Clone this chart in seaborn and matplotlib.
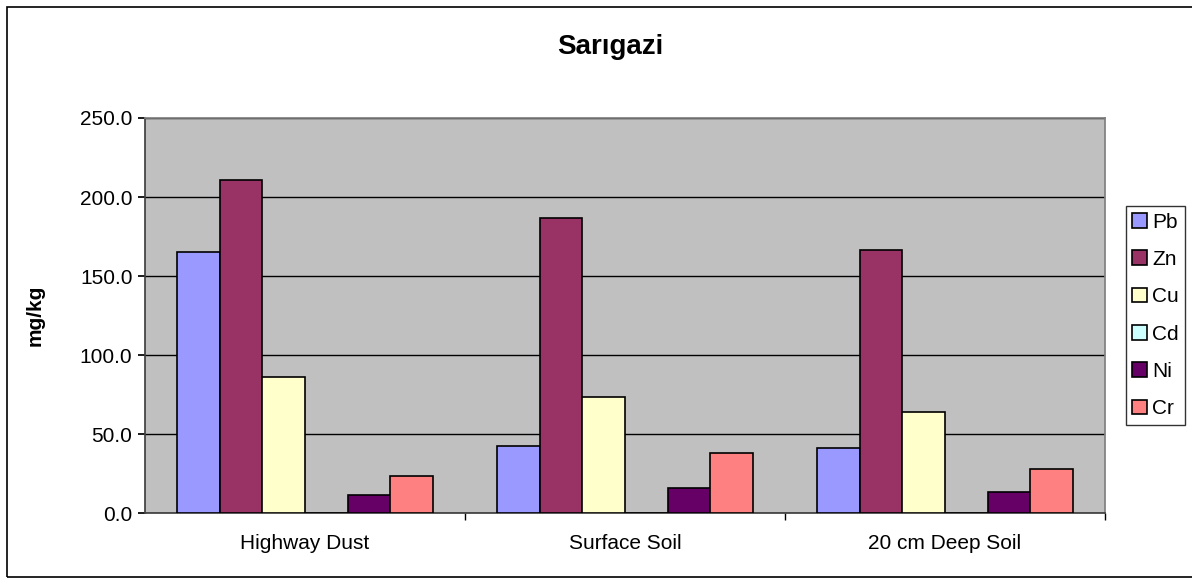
import pandas as pd
import matplotlib.pyplot as plt
import seaborn as sns
from matplotlib.patches import Rectangle

# Values (mg/kg)
sites = ['Highway Dust', 'Surface Soil', '20 cm Deep Soil']
metals = ['Pb', 'Zn', 'Cu', 'Cd', 'Ni', 'Cr']
pb = [165.2, 42.4, 41.3]
zn = [210.8, 186.5, 166.5]
cu = [86.0, 73.6, 63.7]
cd = [0.3, 0.3, 0.3]
ni = [11.4, 15.8, 13.5]
cr = [23.6, 37.8, 28.0]
colors = ['#9999FF', '#993366', '#FFFFCC', '#CCFFFF', '#660066', '#FF8080']

series = {'Pb': pb, 'Zn': zn, 'Cu': cu, 'Cd': cd, 'Ni': ni, 'Cr': cr}
rows = []
for metal in metals:
    for site, val in zip(sites, series[metal]):
        rows.append({'Site': site, 'Metal': metal, 'Value': val})
df = pd.DataFrame(rows)

sns.set_theme(style='white')
plt.rcParams['font.family'] = ['Liberation Sans', 'DejaVu Sans']
plt.rcParams['text.color'] = 'black'
plt.rcParams['xtick.color'] = 'black'
plt.rcParams['ytick.color'] = 'black'
plt.rcParams['axes.labelcolor'] = 'black'

fig = plt.figure(figsize=(11.92, 5.83), dpi=100)
ax = fig.add_axes([0.1216, 0.12, 0.8054, 0.6776])
ax.set_facecolor('#C0C0C0')

sns.barplot(data=df, x='Site', y='Value', hue='Metal', hue_order=metals,
            order=sites, palette=colors, width=0.8, edgecolor='black',
            linewidth=1.2, saturation=1, ax=ax, errorbar=None, zorder=3)

ax.set_ylim(0, 250)
ax.set_xlim(-0.5, 2.5)
ax.set_yticks([0, 50, 100, 150, 200, 250])
ax.set_yticklabels([f'{v:.1f}' for v in [0, 50, 100, 150, 200, 250]], fontsize=15)
ax.yaxis.grid(True, color='black', linewidth=1)
ax.set_axisbelow(True)

ax.tick_params(axis='x', which='major', length=0, labelsize=15, pad=15)
ax.set_xticks([0.5, 1.5, 2.5], minor=True)
ax.tick_params(axis='x', which='minor', length=5, color='black', direction='out', bottom=True)
ax.tick_params(axis='y', length=5, color='black', direction='out', left=True, pad=4)

for side in ['top', 'right']:
    ax.spines[side].set_color('#808080')
for side in ['left', 'bottom']:
    ax.spines[side].set_color('#404040')

ax.set_xlabel('')
ax.set_ylabel('mg/kg', fontsize=15, fontweight='bold')
ax.yaxis.set_label_coords(-0.104, 0.5)
fig.text(0.512, 0.919, 'Sarıgazi', ha='center', va='center',
         fontsize=20, fontweight='bold')

leg = ax.legend(loc='center left', bbox_to_anchor=(1.022, 0.5), frameon=True,
                fontsize=15, handlelength=0.7, handleheight=0.7,
                handletextpad=0.25, labelspacing=0.88, borderpad=0.3,
                borderaxespad=0, fancybox=False)
leg.get_frame().set_edgecolor('black')
leg.get_frame().set_linewidth(1)

# outer chart border, running off the right edge like the original
fig.patches.append(Rectangle((0.006, 0.01), 1.0, 0.978, transform=fig.transFigure,
                             fill=False, edgecolor='black', linewidth=1.2))

fig.savefig('out.png', dpi=100, facecolor='white')
